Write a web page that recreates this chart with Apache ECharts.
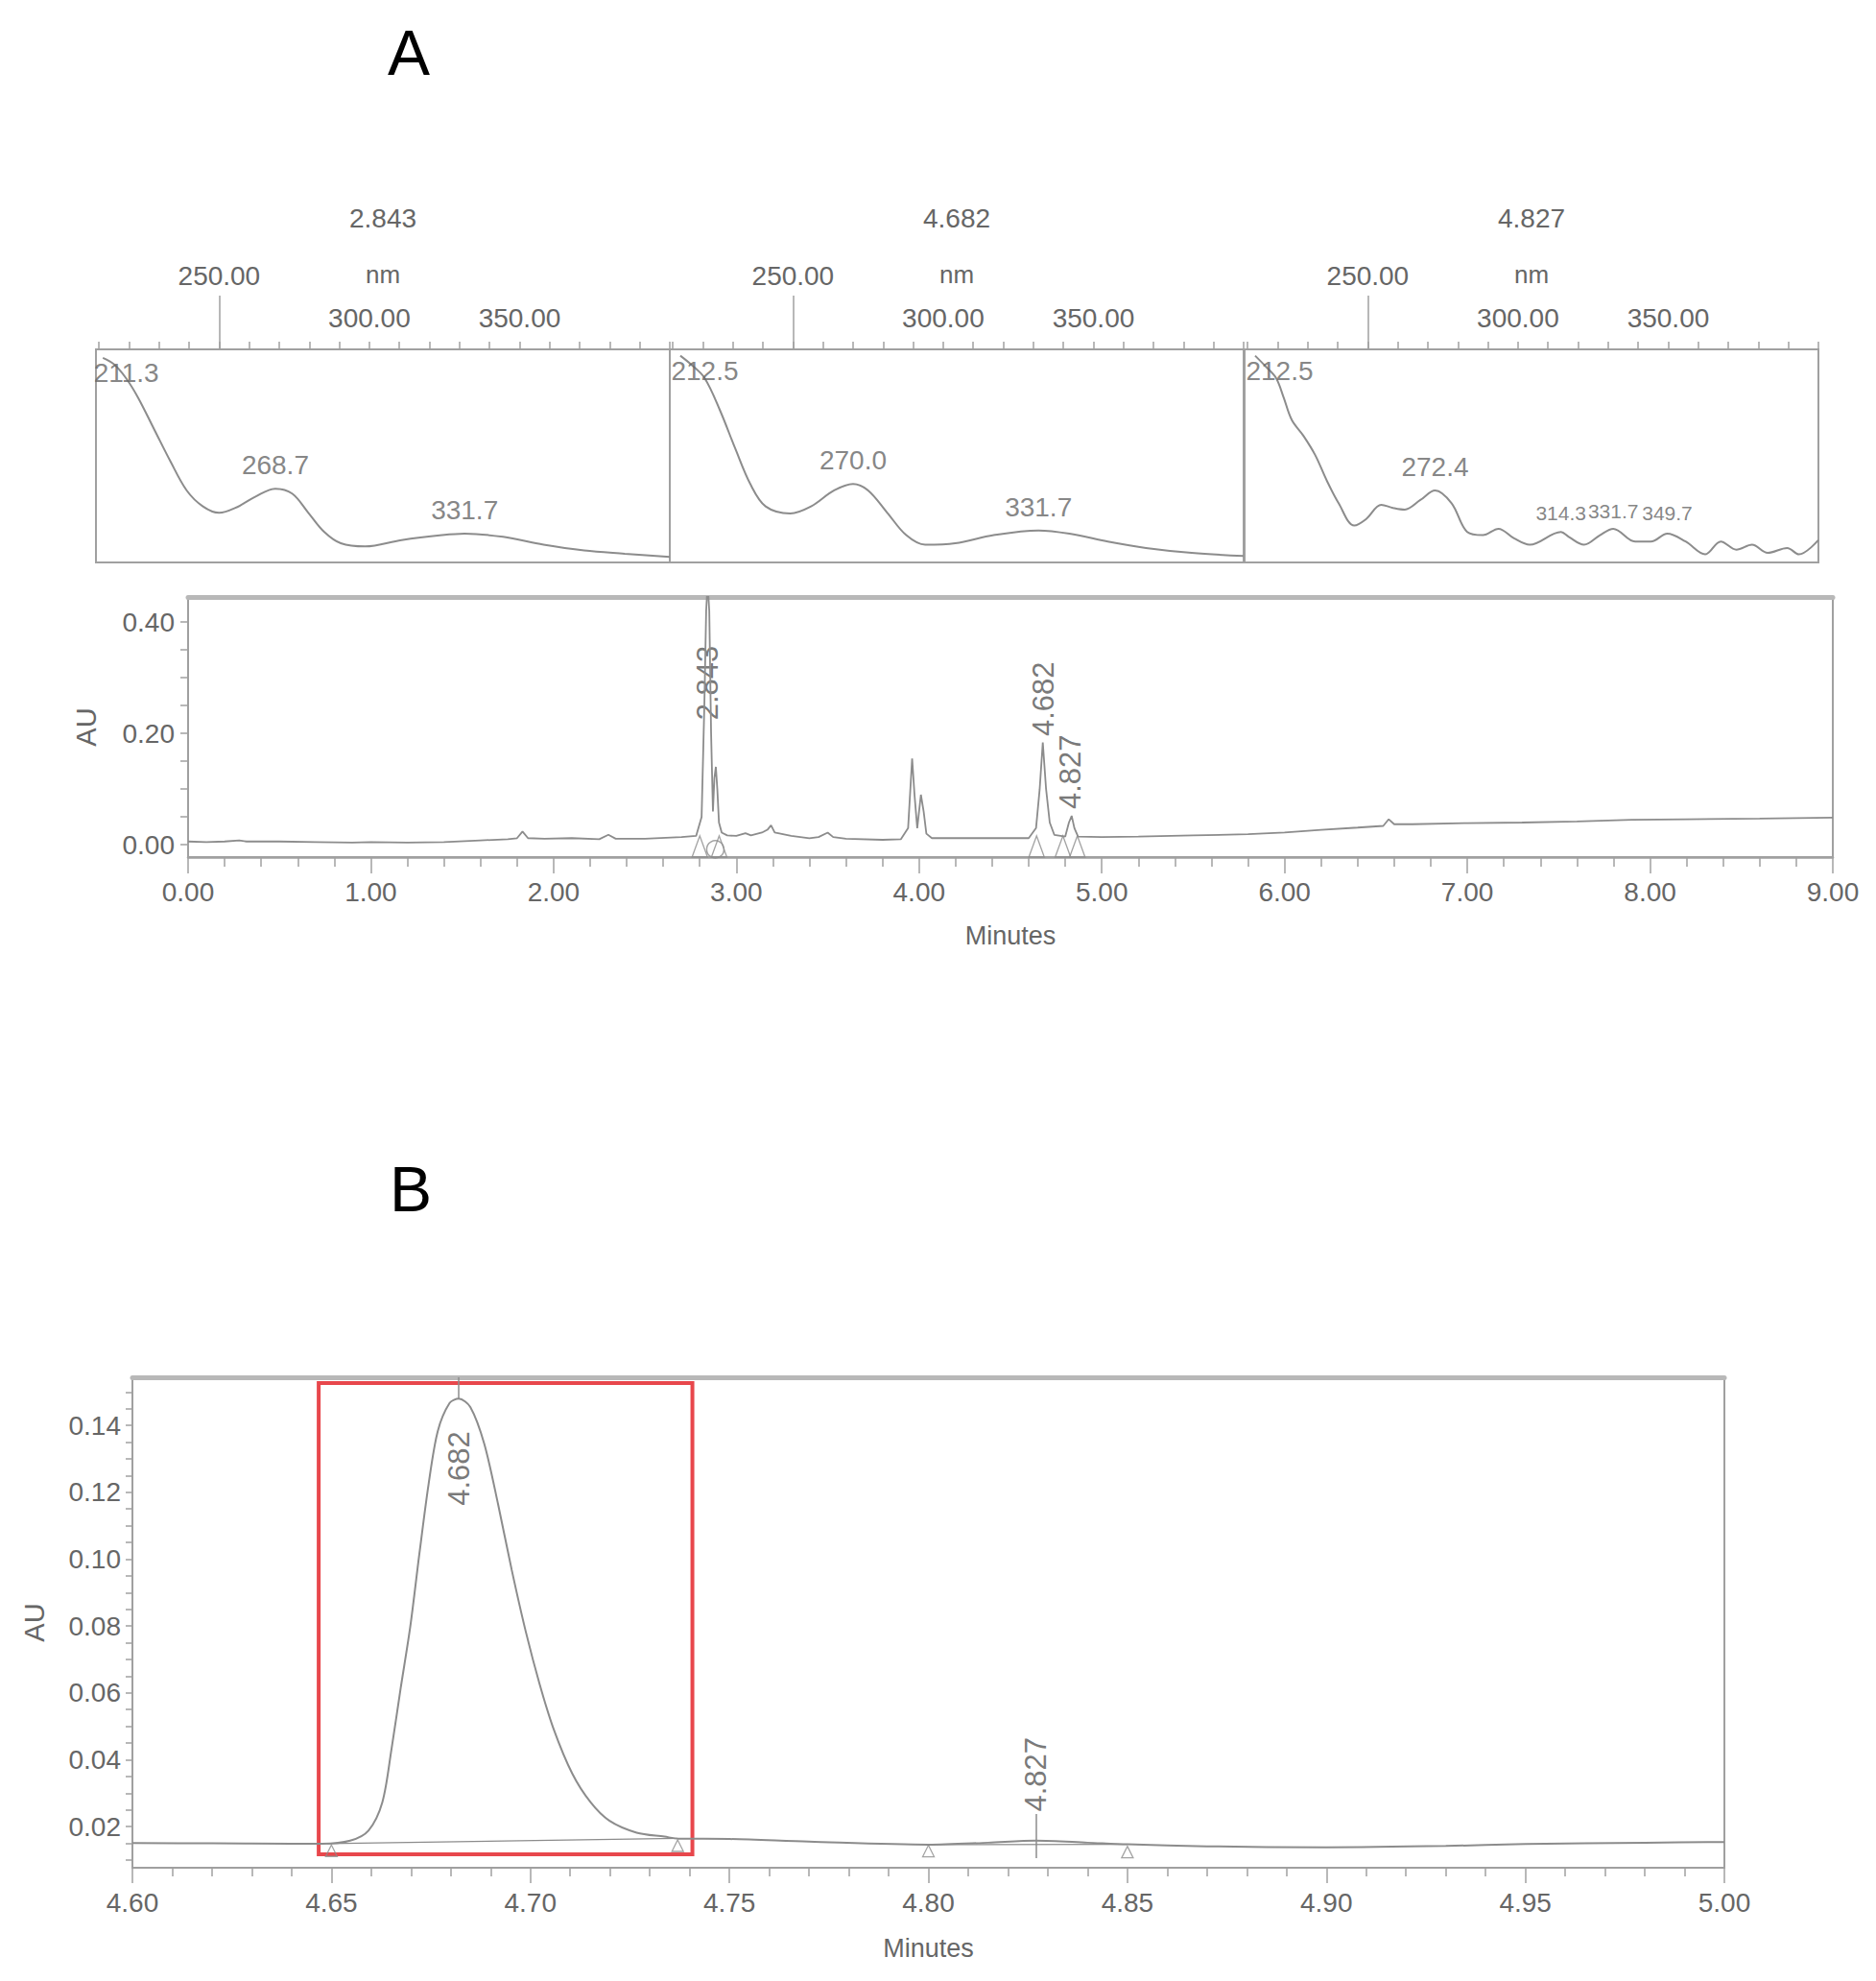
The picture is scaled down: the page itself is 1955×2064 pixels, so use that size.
<!DOCTYPE html>
<html><head><meta charset="utf-8">
<script src="https://cdn.jsdelivr.net/npm/echarts@6/dist/echarts.min.js"></script>
<style>html,body{margin:0;padding:0;background:#fff}#c{width:1955px;height:2064px}</style>
</head><body><div id="c"></div>
<script>
// ---------------- DATA ----------------
const specRange = [209, 400];
const specTicks = [210,220,230,240,250,260,270,280,290,300,310,320,330,340,350,360,370,380,390,400];
const specLabelTicks = [300, 350];
const specLongTick = [250];
const specTitles = ['2.843', '4.682', '4.827'];

const spec1Nm  = [211.3,215,219,223,228.4,233.8,239.2,244.6,250,255.4,262,268.7,274.3,279.7,285,290.5,298.6,310.7,324.2,331.7,344.5,358,371.5,385,400];
const spec1Abs = [0.96,0.93,0.865,0.774,0.624,0.474,0.338,0.263,0.233,0.256,0.308,0.346,0.323,0.233,0.143,0.09,0.075,0.105,0.128,0.135,0.12,0.083,0.056,0.041,0.026];
const spec2Nm  = [212.5,216,220.6,225.7,230.8,235.8,240.9,249.1,256,263.7,270,275,281.4,287.7,294,304,316.8,331.7,342,354.8,367.5,382.7,400];
const spec2Abs = [0.97,0.93,0.865,0.714,0.534,0.368,0.263,0.23,0.263,0.338,0.368,0.338,0.233,0.128,0.083,0.09,0.128,0.15,0.135,0.098,0.068,0.045,0.03];
const spec3Nm  = [212.5,216,219.5,222,224.7,228.6,232.5,236.4,240.3,245.5,249.4,254.5,258.4,262.3,267.5,272.4,277.9,283.1,288.3,293.5,298.7,303.9,314.3,316.9,322,327.3,331.7,339,344.2,349.7,355.8,362.3,367.5,372.7,377.9,383.1,389.6,393.5,400];
const spec3Abs = [0.97,0.92,0.865,0.774,0.669,0.594,0.504,0.383,0.278,0.173,0.203,0.27,0.256,0.248,0.293,0.338,0.278,0.143,0.128,0.158,0.113,0.083,0.143,0.12,0.083,0.128,0.158,0.098,0.098,0.135,0.098,0.038,0.098,0.06,0.083,0.045,0.068,0.038,0.105];
const spec1PeakNm = [211.3, 268.7, 331.7], spec1PeakAbs = [0.96, 0.346, 0.135];
const spec2PeakNm = [212.5, 270.0, 331.7], spec2PeakAbs = [0.97, 0.368, 0.15];
const spec3PeakNm = [212.5, 272.4, 314.3, 331.7, 349.7], spec3PeakAbs = [0.97, 0.338, 0.143, 0.15, 0.14];

// Chromatogram A (full run)
const timeA = [0.00,0.10,0.20,0.28,0.32,0.50,0.70,0.90,1.00,1.20,1.40,1.60,1.75,1.80,1.83,1.86,1.95,2.10,2.25,2.30,2.34,2.50,2.70,2.78,2.81,2.825,2.835,2.843,2.852,2.862,2.872,2.880,2.888,2.896,2.905,2.92,2.95,3.00,3.05,3.08,3.14,3.17,3.19,3.21,3.30,3.40,3.45,3.50,3.53,3.60,3.80,3.90,3.94,3.962,3.975,3.99,4.01,4.025,4.04,4.07,4.20,4.40,4.60,4.64,4.66,4.677,4.695,4.715,4.74,4.80,4.82,4.835,4.85,4.87,5.00,5.20,5.50,5.80,6.00,6.20,6.40,6.54,6.57,6.60,6.70,7.00,7.30,7.60,7.90,8.20,8.60,9.00];
const auA   = [0.006,0.005,0.006,0.008,0.006,0.006,0.005,0.004,0.005,0.004,0.005,0.008,0.010,0.012,0.024,0.012,0.011,0.012,0.010,0.018,0.011,0.011,0.014,0.016,0.05,0.25,0.42,0.47,0.42,0.20,0.06,0.12,0.14,0.10,0.04,0.022,0.017,0.016,0.021,0.017,0.022,0.027,0.035,0.022,0.016,0.012,0.014,0.022,0.014,0.011,0.009,0.010,0.03,0.155,0.09,0.03,0.09,0.06,0.02,0.012,0.012,0.012,0.012,0.03,0.10,0.184,0.10,0.04,0.018,0.015,0.04,0.052,0.03,0.015,0.014,0.015,0.017,0.019,0.022,0.027,0.031,0.034,0.046,0.037,0.037,0.039,0.040,0.042,0.045,0.046,0.047,0.049];
const peaksA = [2.843, 4.682, 4.827];
const peakLabelBaseA = [0.224, 0.195, 0.064];
const markersA = [[2.80,-0.003],[2.906,-0.003],[4.643,-0.003],[4.787,-0.003],[4.866,-0.003]];
const circleA = [[2.885,-0.008]];

// Chromatogram B (zoom 4.60-5.00 min)
const timeB = [4.600,4.620,4.640,4.6477,4.6547,4.6593,4.6628,4.6651,4.6674,4.6698,4.6721,4.6744,4.6767,4.6797,4.6820,4.6849,4.6884,4.6919,4.6953,4.6988,4.7023,4.7058,4.7105,4.7151,4.7198,4.7267,4.7337,4.7372,4.750,4.770,4.800,4.815,4.827,4.840,4.850,4.870,4.900,4.930,4.950,4.980,5.000];
const auB   = [0.0151,0.0150,0.0149,0.0149,0.0158,0.0188,0.0273,0.0432,0.0614,0.0797,0.1016,0.1223,0.1382,0.1467,0.1480,0.1455,0.1345,0.1163,0.0968,0.0785,0.0627,0.0493,0.0359,0.0273,0.0218,0.0182,0.0170,0.0164,0.0163,0.0155,0.0146,0.0152,0.0158,0.0152,0.0147,0.0141,0.0138,0.0142,0.0148,0.0152,0.0154];
const peaksB = [4.682, 4.827];
const peakLabelBaseB = [0.116, 0.0245];
const apexTicksB = [[4.682, 0.148, 0.1544], [4.827, 0.0106, 0.0238]];
const intBaselineB1 = [[4.649, 0.0149], [4.737, 0.0165]];
const intBaselineB2 = [[4.800, 0.0146], [4.850, 0.0147]];
const markersB = [[4.650, 0.0128], [4.737, 0.0143], [4.800, 0.0127], [4.850, 0.0124]];
const boxB = [[4.6468, 0.0117], [4.7407, 0.1527]];
const yLabelsA = [0, 0.2, 0.4];
const yTicksA = [0,0.05,0.10,0.15,0.20,0.25,0.30,0.35,0.40];
const yLabelsB = [0.02,0.04,0.06,0.08,0.10,0.12,0.14];
const yTicksB = [0.010,0.015,0.020,0.025,0.030,0.035,0.040,0.045,0.050,0.055,0.060,0.065,0.070,0.075,0.080,0.085,0.090,0.095,0.100,0.105,0.110,0.115,0.120,0.125,0.130,0.135,0.140,0.145,0.150];

// ---------------- LAYOUT / STYLE ----------------
const FONT = "'Liberation Sans Narrow','Liberation Sans',Arial,sans-serif";
const FONTW = "'Liberation Sans','DejaVu Sans',Arial,sans-serif";
const TXT = '#666', LINE = '#8c8c8c', FRAME = '#a0a0a0', FRAME_TOP = '#b8b8b8';
const PANEL_LEFT = [100, 698, 1297], PANEL_W = 598, PANEL_TOP = 364, PANEL_H = 222, LONG_TICK = 56;
const zip = (a, b) => a.map((v, i) => [v, b[i]]);

const spectra = [[spec1Nm, spec1Abs, spec1PeakNm, spec1PeakAbs],[spec2Nm, spec2Abs, spec2PeakNm, spec2PeakAbs],[spec3Nm, spec3Abs, spec3PeakNm, spec3PeakAbs]];

const grid = [];
PANEL_LEFT.forEach(l => grid.push({left:l, top:PANEL_TOP, width:PANEL_W, height:PANEL_H, show:true, borderColor:FRAME, borderWidth:2}));
PANEL_LEFT.forEach(l => grid.push({left:l, top:PANEL_TOP - LONG_TICK, width:PANEL_W, height:LONG_TICK, show:false}));
grid.push({left:196, top:622, width:1714, height:271, show:true, borderColor:FRAME, borderWidth:2});
grid.push({left:138, top:1435, width:1659, height:511, show:true, borderColor:FRAME, borderWidth:2});

const labelStyle = {fontFamily:FONT, fontSize:28, color:TXT};
const xAxis = [], yAxis = [], series = [];
for (let i = 0; i < 3; i++) {
  xAxis.push({gridIndex:i, type:'value', position:'top', min:specRange[0], max:specRange[1],
    axisLine:{show:true, onZero:false, lineStyle:{color:FRAME, width:2}},
    axisTick:{show:true, customValues:specTicks, length:8, lineStyle:{color:FRAME, width:1.5}},
    axisLabel:{show:true, customValues:specLabelTicks, formatter:v=>v.toFixed(2), margin:19, ...labelStyle},
    splitLine:{show:false}});
  yAxis.push({gridIndex:i, type:'value', min:0, max:1, show:false, axisLine:{onZero:false}});
}
for (let i = 0; i < 3; i++) {
  xAxis.push({gridIndex:3+i, type:'value', position:'top', min:specRange[0], max:specRange[1],
    axisLine:{show:false, onZero:false},
    axisTick:{show:true, inside:true, customValues:specLongTick, length:LONG_TICK, lineStyle:{color:FRAME, width:1.5}},
    axisLabel:{show:true, customValues:specLongTick, formatter:v=>v.toFixed(2), margin:7, ...labelStyle},
    name:'nm', nameLocation:'middle', nameGap:9, nameMoveOverlap:false, nameTextStyle:{...labelStyle, fontSize:26},
    splitLine:{show:false}});
  yAxis.push({gridIndex:3+i, type:'value', min:0, max:1, show:false, axisLine:{onZero:false}});
}
// A axes
xAxis.push({gridIndex:6, type:'value', position:'bottom', min:0, max:9, interval:1,
  axisLine:{show:true, onZero:false, lineStyle:{color:FRAME, width:2.5}},
  axisTick:{show:true, length:17, lineStyle:{color:FRAME, width:1.5}},
  minorTick:{show:true, splitNumber:5, length:10, lineStyle:{color:FRAME, width:1.5}},
  axisLabel:{formatter:v=>v.toFixed(2), margin:22, ...labelStyle},
  name:'Minutes', nameLocation:'middle', nameGap:68, nameTextStyle:{...labelStyle, fontSize:27},
  splitLine:{show:false}, minorSplitLine:{show:false}});
yAxis.push({gridIndex:6, type:'value', min:-0.022, max:0.445,
  axisLine:{show:true, onZero:false, lineStyle:{color:FRAME, width:2}},
  axisTick:{show:true, customValues:yTicksA, length:8, lineStyle:{color:FRAME, width:1.5}},
  axisLabel:{customValues:yLabelsA, formatter:v=>v.toFixed(2), margin:14, ...labelStyle},
  name:'AU', nameLocation:'middle', nameGap:92, nameTextStyle:{...labelStyle, fontSize:29},
  splitLine:{show:false}});
// B axes
xAxis.push({gridIndex:7, type:'value', position:'bottom', min:4.60, max:5.00, interval:0.05,
  axisLine:{show:true, onZero:false, lineStyle:{color:FRAME, width:2}},
  axisTick:{show:true, length:16, lineStyle:{color:FRAME, width:1.5}},
  minorTick:{show:true, splitNumber:5, length:9, lineStyle:{color:FRAME, width:1.5}},
  axisLabel:{formatter:v=>v.toFixed(2), margin:22, ...labelStyle},
  name:'Minutes', nameLocation:'middle', nameGap:70, nameTextStyle:{...labelStyle, fontSize:27},
  splitLine:{show:false}, minorSplitLine:{show:false}});
yAxis.push({gridIndex:7, type:'value', min:0.0077, max:0.1544,
  axisLine:{show:true, onZero:false, lineStyle:{color:FRAME, width:2}},
  axisTick:{show:true, customValues:yTicksB, length:7, lineStyle:{color:FRAME, width:1.5}},
  axisLabel:{customValues:yLabelsB, formatter:v=>v.toFixed(2), margin:12, ...labelStyle},
  name:'AU', nameLocation:'middle', nameGap:88, nameTextStyle:{...labelStyle, fontSize:29},
  splitLine:{show:false}});
// thicker top frame lines of the two chromatograms
[6, 7].forEach(g => xAxis.push({gridIndex:g, type:'value', position:'top', min: g === 6 ? 0 : 4.60, max: g === 6 ? 9 : 5.00,
  axisLine:{show:true, onZero:false, lineStyle:{color:FRAME_TOP, width:5}}, axisTick:{show:false}, axisLabel:{show:false}, splitLine:{show:false}}));

// spectra series
spectra.forEach(([nm, ab, pn, pa], i) => {
  series.push({type:'line', xAxisIndex:i, yAxisIndex:i, data:zip(nm, ab), showSymbol:false, smooth:0.35,
    lineStyle:{color:LINE, width:2}, silent:true, z:2});
  const crowded = pn.length > 3;
  series.push({type:'scatter', xAxisIndex:i, yAxisIndex:i, symbolSize:1, itemStyle:{color:'transparent'}, silent:true,
    data: pn.map((n, k) => ({value:[n, pa[k]],
      label: k === 0 ? {position:[-9, 2], align:'left', verticalAlign:'top'}
           : (crowded && k >= 2 ? {position:'top', distance:9, fontSize:21} : {position:'top', distance:10})})),
    label:{show:true, formatter:p=>p.value[0].toFixed(1), ...labelStyle}, z:3});
  series.push({type:'line', xAxisIndex:3+i, yAxisIndex:3+i, data:[], silent:true});
});

// A series
series.push({type:'line', xAxisIndex:6, yAxisIndex:6, data:zip(timeA, auA), showSymbol:false, smooth:false,
  lineStyle:{color:LINE, width:1.8}, clip:true, silent:true});
series.push({type:'scatter', xAxisIndex:6, yAxisIndex:6, symbolSize:1, itemStyle:{color:'transparent'}, silent:true,
  data: zip(peaksA, peakLabelBaseA),
  label:{show:true, position:'inside', rotate:90, align:'left', verticalAlign:'middle',
    formatter:p=>p.value[0].toFixed(3), fontFamily:FONTW, fontSize:31, color:'#555'}});
series.push({type:'scatter', xAxisIndex:6, yAxisIndex:6, symbol:'triangle', symbolSize:[16,22], silent:true,
  data: markersA, itemStyle:{color:'rgba(0,0,0,0)', borderColor:LINE, borderWidth:1.5}});
series.push({type:'scatter', xAxisIndex:6, yAxisIndex:6, symbol:'circle', symbolSize:18, silent:true,
  data: circleA, itemStyle:{color:'rgba(0,0,0,0)', borderColor:LINE, borderWidth:1.5}});

// B series
series.push({type:'line', xAxisIndex:7, yAxisIndex:7, data:zip(timeB, auB), showSymbol:false, smooth:0.3,
  lineStyle:{color:LINE, width:2}, silent:true,
  markArea:{silent:true, itemStyle:{color:'rgba(0,0,0,0)', borderColor:'#e8474c', borderWidth:4},
    data:[[{coord:boxB[0]}, {coord:boxB[1]}]]}});
series.push({type:'line', xAxisIndex:7, yAxisIndex:7, data:intBaselineB1, showSymbol:false, lineStyle:{color:LINE, width:1.2}, silent:true});
series.push({type:'line', xAxisIndex:7, yAxisIndex:7, data:intBaselineB2, showSymbol:false, lineStyle:{color:LINE, width:1.2}, silent:true});
series.push({type:'scatter', xAxisIndex:7, yAxisIndex:7, symbolSize:1, itemStyle:{color:'transparent'}, silent:true,
  data: zip(peaksB, peakLabelBaseB),
  label:{show:true, position:'inside', rotate:90, align:'left', verticalAlign:'middle',
    formatter:p=>p.value[0].toFixed(3), fontFamily:FONTW, fontSize:31, color:'#555'},
  markLine:{silent:true, symbol:'none', label:{show:false}, lineStyle:{color:LINE, type:'solid', width:1.5},
    data: apexTicksB.map(([t, a, b]) => [{coord:[t, a]}, {coord:[t, b]}])}});
series.push({type:'scatter', xAxisIndex:7, yAxisIndex:7, symbol:'triangle', symbolSize:[12,12], silent:true,
  data: markersB, itemStyle:{color:'rgba(0,0,0,0)', borderColor:LINE, borderWidth:1.3}});

// text graphics: panel letters and spectrum titles
const graphic = [
  {type:'text', x:426, y:55, style:{text:'A', font:"66px 'Liberation Sans', Arial, sans-serif", fill:'#000', align:'center', verticalAlign:'middle'}},
  {type:'text', x:428, y:1239, style:{text:'B', font:"66px 'Liberation Sans', Arial, sans-serif", fill:'#000', align:'center', verticalAlign:'middle'}}
];
specTitles.forEach((t, i) => graphic.push({type:'text', x:PANEL_LEFT[i] + PANEL_W/2, y:227,
  style:{text:t, font:"28px " + FONT, fill:TXT, align:'center', verticalAlign:'middle'}}));

const chart = echarts.init(document.getElementById('c'), null, {renderer:'svg', width:1955, height:2064});
chart.setOption({animation:false, backgroundColor:'#fff', grid, xAxis, yAxis, series, graphic});
</script></body></html>
